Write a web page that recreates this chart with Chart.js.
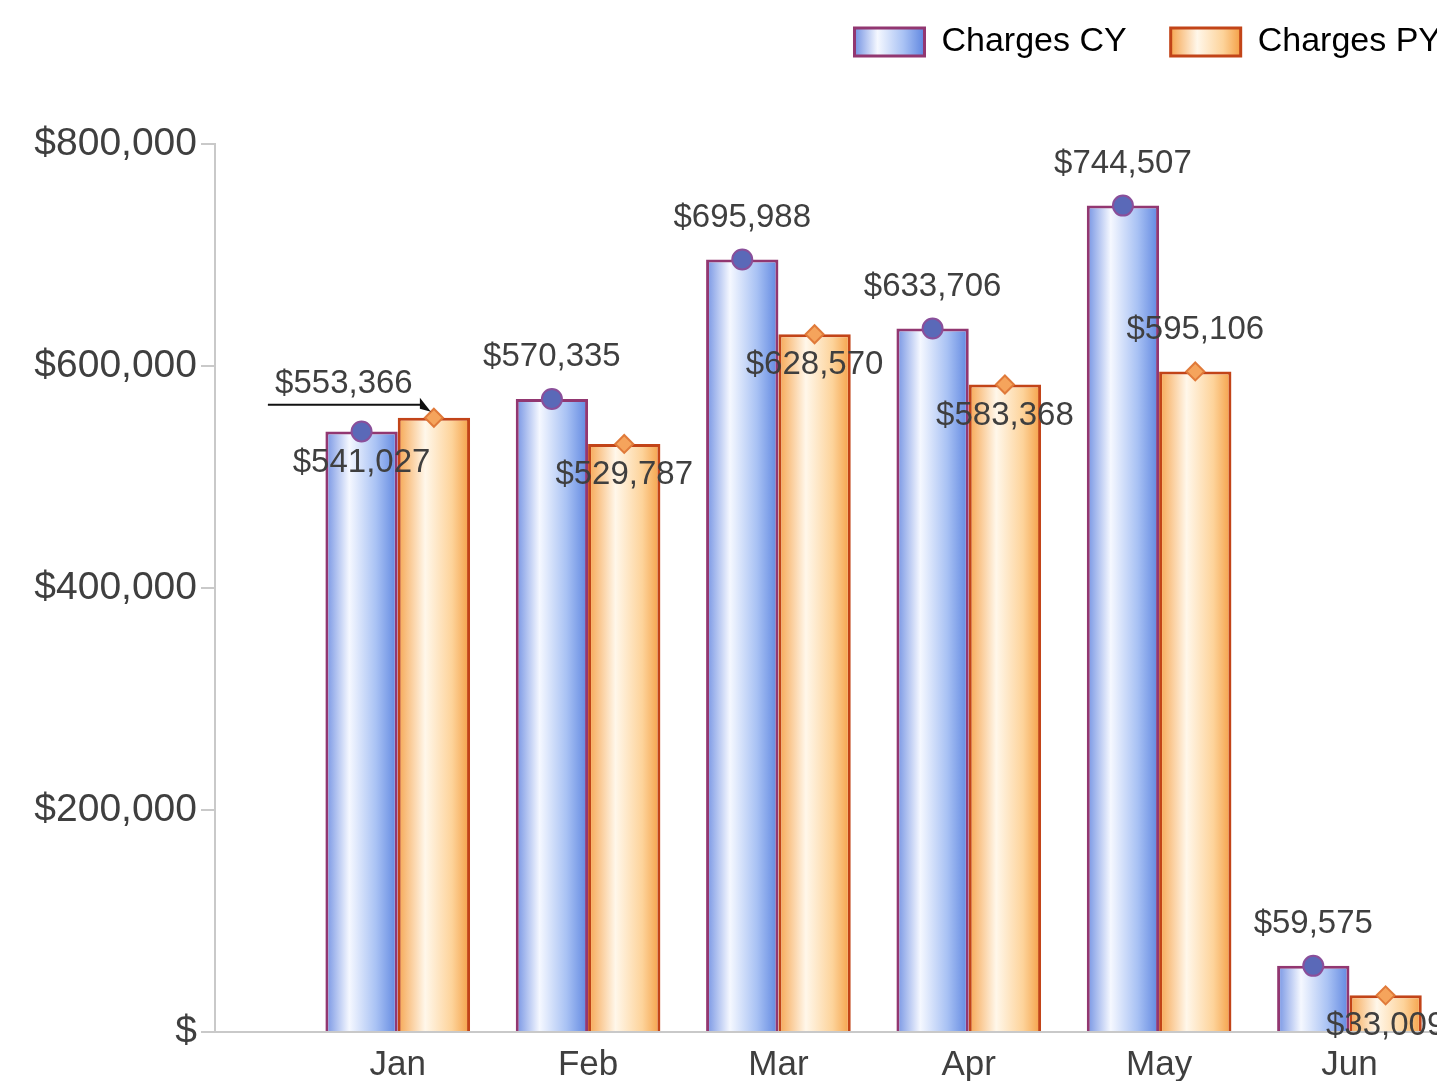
<!DOCTYPE html>
<html>
<head>
<meta charset="utf-8">
<script src="https://cdn.jsdelivr.net/npm/chart.js@4.4.0/dist/chart.umd.min.js"></script>
<style>
  html, body { margin: 0; padding: 0; background: #fff; overflow: hidden; }
  #wrap { width: 1437px; height: 1100px; }
</style>
</head>
<body>
<div id="wrap"><canvas id="chargesChart" width="1437" height="1100"></canvas></div>
<script>
// data
const months = ['Jan', 'Feb', 'Mar', 'Apr', 'May', 'Jun'];
const chargesCY = [541027, 570335, 695988, 633706, 744507, 59575];
const chargesPY = [553366, 529787, 628570, 583368, 595106, 33009];
const yTicks = [0, 200000, 400000, 600000, 800000];

// where each value label sits relative to its marker
const placeCY = ['below', 'above', 'above', 'above', 'above', 'above'];
const placePY = ['leader', 'below', 'below', 'below', 'above', 'below'];

const FONT = "'Liberation Sans', Arial, sans-serif";
const CAT_PCT = 0.76;

const money = v => v === 0 ? '$' : '$' + v.toLocaleString('en-US');

const cyStops = [[0, '#7392e3'], [0.33, '#f5f8ff'], [0.7, '#a9c2f4'], [1, '#5f86e0']];
const pyStops = [[0, '#f6a651'], [0.38, '#fff7ea'], [0.75, '#fdd39a'], [1, '#f4a046']];

function makeGradient(c, left, width, stops) {
    const g = c.createLinearGradient(left, 0, left + width, 0);
    stops.forEach(s => g.addColorStop(s[0], s[1]));
    return g;
}

// horizontal gradient across one bar, computed from the x scale
function barGradient(ctx, stops, fallback) {
    const chart = ctx.chart;
    const xs = chart.scales.x;
    if (ctx.dataIndex === undefined || !xs) return fallback;
    const unit = xs.getPixelForValue(1) - xs.getPixelForValue(0);
    const groupW = unit * CAT_PCT;
    const left = xs.getPixelForValue(ctx.dataIndex) - groupW / 2 + ctx.datasetIndex * groupW / 2;
    return makeGradient(chart.ctx, left, groupW / 2, stops);
}

// markers on top of bars and value labels
const valueLabels = {
    id: 'valueLabels',
    afterDatasetsDraw(chart) {
        const c = chart.ctx;
        c.save();
        chart.data.datasets.forEach((ds, di) => {
            chart.getDatasetMeta(di).data.forEach(el => {
                const x = el.x, y = el.y;
                c.lineWidth = 2;
                c.beginPath();
                if (di === 0) {
                    c.arc(x, y, 10, 0, Math.PI * 2);
                    c.fillStyle = '#5a69b8';
                    c.strokeStyle = '#8a4f9a';
                } else {
                    c.moveTo(x, y - 9); c.lineTo(x + 9, y); c.lineTo(x, y + 9); c.lineTo(x - 9, y);
                    c.closePath();
                    c.fillStyle = '#f5a45c';
                    c.strokeStyle = '#e07a3a';
                }
                c.fill();
                c.stroke();
            });
        });
        c.font = '33px ' + FONT;
        c.textAlign = 'center';
        c.textBaseline = 'middle';
        chart.data.datasets.forEach((ds, di) => {
            const places = di === 0 ? placeCY : placePY;
            chart.getDatasetMeta(di).data.forEach((el, i) => {
                const x = el.x, y = el.y;
                const txt = money(ds.data[i].y);
                c.fillStyle = '#3f3f3f';
                if (places[i] === 'above') {
                    c.fillText(txt, x, y - 42);
                } else if (places[i] === 'below') {
                    c.fillText(txt, x, y + 31);
                } else {
                    // label moved off to the left with a pointer back to the marker
                    c.fillText(txt, x - 90, y - 34);
                    c.beginPath();
                    c.strokeStyle = '#111';
                    c.lineWidth = 2;
                    c.moveTo(x - 166, y - 13);
                    c.lineTo(x - 12, y - 13);
                    c.stroke();
                    c.beginPath();
                    c.fillStyle = '#111';
                    c.moveTo(x - 14, y - 20);
                    c.lineTo(x - 3, y - 6);
                    c.lineTo(x - 14, y - 9);
                    c.closePath();
                    c.fill();
                }
            });
        });
        c.restore();
    }
};

// extra room under the legend, and gradient legend boxes
const legendTweaks = {
    id: 'legendTweaks',
    beforeInit(chart) {
        const fit = chart.legend.fit;
        chart.legend.fit = function () {
            fit.call(this);
            this.height += 75;
        };
    },
    beforeDraw(chart) {
        const lg = chart.legend;
        if (!lg || !lg.legendHitBoxes) return;
        lg.legendItems.forEach((it, i) => {
            const hb = lg.legendHitBoxes[i];
            if (!hb) return;
            it.fillStyle = makeGradient(chart.ctx, hb.left, 70, i === 0 ? cyStops : pyStops);
        });
    }
};

document.addEventListener('DOMContentLoaded', function () {
    const ctx = document.getElementById('chargesChart');

    new Chart(ctx, {
        type: 'bar',
        data: {
            datasets: [{
                label: 'Charges CY',
                data: chargesCY.map((v, i) => ({ x: i, y: v })),
                backgroundColor: c => barGradient(c, cyStops, '#b9cdf5'),
                borderColor: '#923771',
                borderWidth: 3,
                borderSkipped: 'bottom',
                categoryPercentage: CAT_PCT,
                barPercentage: 1
            }, {
                label: 'Charges PY',
                data: chargesPY.map((v, i) => ({ x: i, y: v })),
                backgroundColor: c => barGradient(c, pyStops, '#fdd9a8'),
                borderColor: '#c24418',
                borderWidth: 3,
                borderSkipped: 'bottom',
                categoryPercentage: CAT_PCT,
                barPercentage: 1
            }]
        },
        options: {
            responsive: false,
            animation: false,
            layout: { padding: { top: -19, right: -48, bottom: 10, left: 0 } },
            scales: {
                x: {
                    type: 'linear',
                    offset: false,
                    min: -0.96,
                    max: 5.46,
                    afterBuildTicks: s => { s.ticks = months.map((m, i) => ({ value: i })); },
                    ticks: {
                        autoSkip: false,
                        maxRotation: 0,
                        padding: 4,
                        color: '#3f3f3f',
                        font: { family: FONT, size: 35 },
                        callback: v => months[v]
                    },
                    grid: { display: false },
                    border: { display: true, color: '#c9c9c9', width: 2 }
                },
                y: {
                    min: 0,
                    max: 800000,
                    afterBuildTicks: s => { s.ticks = yTicks.map(v => ({ value: v })); },
                    afterFit: s => { s.width = 215; },
                    ticks: {
                        padding: 4,
                        color: '#3f3f3f',
                        font: { family: FONT, size: 39 },
                        callback: v => money(v)
                    },
                    grid: { drawOnChartArea: false, drawTicks: true, tickLength: 14, color: '#c9c9c9', lineWidth: 2 },
                    border: { display: true, color: '#c9c9c9', width: 2 }
                }
            },
            plugins: {
                legend: {
                    position: 'top',
                    align: 'end',
                    labels: {
                        boxWidth: 70,
                        boxHeight: 28,
                        padding: 44,
                        color: '#4a4a4a',
                        font: { family: FONT, size: 34 },
                        generateLabels: chart => chart.data.datasets.map((ds, i) => ({
                            text: ds.label,
                            fillStyle: i === 0 ? '#c3d4f7' : '#fde0b6',
                            strokeStyle: ds.borderColor,
                            lineWidth: 3,
                            datasetIndex: i
                        }))
                    }
                },
                tooltip: { enabled: false }
            }
        },
        plugins: [valueLabels, legendTweaks]
    });
});
</script>
</body>
</html>
